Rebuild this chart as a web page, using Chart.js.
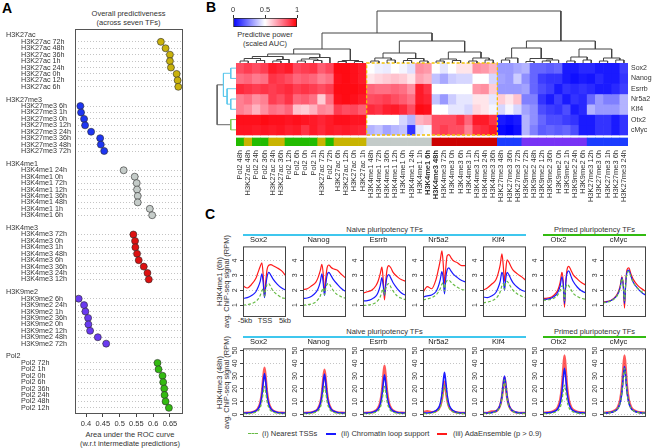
<!DOCTYPE html>
<html>
<head>
<meta charset="utf-8">
<script src="https://cdn.jsdelivr.net/npm/chart.js@4"></script>
<style>
  body { margin: 0; width: 652px; height: 448px; overflow: hidden; position: relative; background: #fff;
         font-family: "Liberation Sans", Arial, sans-serif; color: #333; }
  canvas { position: absolute; }
  .t { position: absolute; white-space: nowrap; font-size: 7.5px; line-height: 9px; }
  .c { text-align: center; }
  .letter { position: absolute; font-size: 14px; font-weight: bold; color: #000; }
  .rot { position: absolute; white-space: nowrap; font-size: 7.5px; text-align: center; transform: rotate(-90deg); }
  .bar { position: absolute; height: 2px; }
  .leg { position: absolute; width: 10px; height: 0; }
</style>
</head>
<body>
<div class="letter" style="left:2px;top:0px">A</div>
<div class="letter" style="left:206px;top:-1px">B</div>
<div class="letter" style="left:205px;top:206px">C</div>

<div class="t c" style="left:75px;top:9px;width:107px">Overall predictiveness<br>(across seven TFs)</div>
<div class="t c" style="left:60px;top:430px;width:140px">Area under the ROC curve<br>(w.r.t intermediate predictions)</div>
<div class="t c" style="left:225px;top:30px;width:80px">Predictive power<br>(scaled AUC)</div>

<div class="t c" style="left:243px;top:225px;width:283px">Naive pluripotency TFs</div>
<div class="bar" style="left:243px;top:234px;width:283px;background:#3fc7ee"></div>
<div class="t c" style="left:543px;top:225px;width:103px">Primed pluripotency TFs</div>
<div class="bar" style="left:543px;top:234px;width:103px;background:#33bb11"></div>
<div class="t c" style="left:243px;top:327px;width:283px">Naive pluripotency TFs</div>
<div class="bar" style="left:243px;top:336px;width:283px;background:#3fc7ee"></div>
<div class="t c" style="left:543px;top:327px;width:103px">Primed pluripotency TFs</div>
<div class="bar" style="left:543px;top:336px;width:103px;background:#33bb11"></div>

<div class="rot" style="left:169px;top:277px;width:100px;height:9px">H3K4me1 (6h)</div>
<div class="rot" style="left:176px;top:277px;width:100px;height:9px">avg. ChIP-seq signal (RPM)</div>
<div class="rot" style="left:169px;top:378px;width:100px;height:9px">H3K4me3 (48h)</div>
<div class="rot" style="left:176px;top:378px;width:100px;height:9px">avg. ChIP-seq signal (RPM)</div>

<div class="t c" style="left:230px;top:316px;width:30px">-5kb</div>
<div class="t c" style="left:250px;top:316px;width:30px">TSS</div>
<div class="t c" style="left:270px;top:316px;width:30px">5kb</div>

<div class="leg" style="left:248px;top:433px;border-top:1.5px dashed #66bb44"></div>
<div class="t" style="left:262px;top:429px">(i) Nearest TSSs</div>
<div class="leg" style="left:326px;top:433px;border-top:2px solid #1a1aff"></div>
<div class="t" style="left:341px;top:429px">(ii) Chromatin loop support</div>
<div class="leg" style="left:437px;top:433px;border-top:2px solid #ff1a1a"></div>
<div class="t" style="left:453px;top:429px">(iii) AdaEnsemble (p &gt; 0.9)</div>

<script>
// ---------- panel A: overall predictiveness ----------
const markNames = ["H3K27ac", "H3K27me3", "H3K4me1", "H3K4me3", "H3K9me2", "Pol2"];
const markColors = ["#c9b20c", "#1d35f2", "#c5ccc9", "#dd1111", "#6a3af0", "#33bb11"];
const stripColors = ["#c8b400", "#1c3cff", "#c3cbc9", "#cc0000", "#7733f5", "#22bb00"];
const timesH3K27ac = ["72h", "48h", "36h", "1h", "24h", "0h", "12h", "6h"];
const timesH3K27me3 = ["6h", "1h", "0h", "12h", "24h", "36h", "48h", "72h"];
const timesH3K4me1 = ["24h", "0h", "72h", "12h", "36h", "48h", "1h", "6h"];
const timesH3K4me3 = ["72h", "0h", "1h", "48h", "6h", "36h", "24h", "12h"];
const timesH3K9me2 = ["6h", "24h", "1h", "36h", "0h", "12h", "48h", "72h"];
const timesPol2 = ["72h", "1h", "0h", "6h", "36h", "24h", "48h", "12h"];
const aucH3K27ac = [0.623, 0.637, 0.650, 0.650, 0.653, 0.670, 0.673, 0.675];
const aucH3K27me3 = [0.383, 0.385, 0.394, 0.397, 0.415, 0.442, 0.444, 0.454];
const aucH3K4me1 = [0.512, 0.545, 0.551, 0.552, 0.554, 0.554, 0.590, 0.597];
const aucH3K4me3 = [0.541, 0.546, 0.547, 0.552, 0.557, 0.572, 0.583, 0.587];
const aucH3K9me2 = [0.378, 0.394, 0.398, 0.406, 0.407, 0.412, 0.435, 0.460];
const aucPol2 = [0.613, 0.616, 0.628, 0.630, 0.633, 0.634, 0.637, 0.647];
const aucTicks = [0.4, 0.45, 0.5, 0.55, 0.6, 0.65];

// ---------- panel B: heatmap ----------
const tfNames = ["Sox2", "Nanog", "Esrrb", "Nr5a2", "Klf4", "Otx2", "cMyc"];
const colLabels = [
  "Pol2 48h", "H3K27ac 48h", "Pol2 24h", "Pol2 36h", "H3K27ac 24h", "H3K27ac 36h", "Pol2 12h", "Pol2 6h",
  "Pol2 0h", "Pol2 1h", "H3K27ac 72h", "Pol2 72h", "H3K27ac 6h", "H3K27ac 12h", "H3K27ac 0h", "H3K27ac 1h",
  "H3K4me1 48h", "H3K4me1 72h", "H3K4me1 36h", "H3K4me1 12h", "H3K4me1 0h", "H3K4me1 24h", "H3K4me1 1h", "H3K4me1 6h",
  "H3K4me3 48h", "H3K4me3 72h", "H3K4me3 0h", "H3K4me3 6h", "H3K4me3 1h", "H3K4me3 12h", "H3K4me3 24h", "H3K4me3 36h",
  "H3K27me3 48h", "H3K27me3 36h", "H3K27me3 72h", "H3K9me2 72h", "H3K9me2 48h", "H3K9me2 12h", "H3K9me2 36h", "H3K9me2 0h",
  "H3K9me2 1h", "H3K9me2 24h", "H3K9me2 6h", "H3K27me3 12h", "H3K27me3 0h", "H3K27me3 1h", "H3K27me3 6h", "H3K27me3 24h",
];
const heatSox2 = [0.85, 0.88, 0.85, 0.88, 0.95, 0.93, 0.95, 0.86, 0.88, 0.9, 0.82, 0.86, 0.98, 0.98, 0.97, 0.95,
  0.5, 0.47, 0.46, 0.5, 0.48, 0.44, 0.72, 0.7, 0.5, 0.45, 0.5, 0.55, 0.55, 0.72, 0.7, 0.65,
  0.3, 0.3, 0.33, 0.35, 0.2, 0.2, 0.18, 0.2, 0.05, 0.05, 0.08, 0.08, 0.05, 0.05, 0.05, 0.12];
const heatNanog = [0.78, 0.8, 0.76, 0.78, 0.9, 0.88, 0.85, 0.8, 0.82, 0.8, 0.75, 0.78, 0.97, 0.98, 0.97, 0.95,
  0.55, 0.58, 0.6, 0.62, 0.6, 0.55, 0.68, 0.65, 0.38, 0.33, 0.4, 0.42, 0.42, 0.5, 0.5, 0.42,
  0.32, 0.3, 0.4, 0.28, 0.2, 0.12, 0.1, 0.1, 0.05, 0.03, 0.05, 0.04, 0.08, 0.05, 0.05, 0.1];
const heatEsrrb = [0.92, 0.9, 0.88, 0.9, 0.88, 0.9, 0.92, 0.88, 0.9, 0.88, 0.85, 0.88, 0.98, 0.98, 0.98, 0.97,
  0.8, 0.78, 0.78, 0.8, 0.78, 0.72, 0.95, 0.9, 0.5, 0.5, 0.5, 0.5, 0.5, 0.7, 0.72, 0.6,
  0.3, 0.3, 0.3, 0.32, 0.2, 0.15, 0.12, 0.05, 0.1, 0.08, 0.1, 0.08, 0.05, 0.05, 0.08, 0.12];
const heatNr5a2 = [0.75, 0.78, 0.72, 0.75, 0.88, 0.85, 0.9, 0.8, 0.82, 0.78, 0.6, 0.78, 0.97, 0.98, 0.97, 0.95,
  0.85, 0.86, 0.88, 0.85, 0.82, 0.78, 0.95, 0.93, 0.38, 0.3, 0.4, 0.45, 0.45, 0.55, 0.55, 0.45,
  0.6, 0.55, 0.62, 0.25, 0.25, 0.1, 0.05, 0.12, 0.05, 0.1, 0.08, 0.2, 0.3, 0.25, 0.25, 0.35];
const heatKlf4 = [0.75, 0.72, 0.65, 0.72, 0.78, 0.76, 0.8, 0.62, 0.6, 0.65, 0.74, 0.72, 0.88, 0.85, 0.86, 0.82,
  0.92, 0.9, 0.94, 0.95, 0.92, 0.85, 0.98, 0.97, 0.5, 0.5, 0.45, 0.45, 0.42, 0.58, 0.55, 0.48,
  0.42, 0.48, 0.42, 0.32, 0.28, 0.15, 0.12, 0.1, 0.15, 0.05, 0.08, 0.35, 0.3, 0.3, 0.3, 0.35];
const heatOtx2 = [0.97, 0.97, 0.97, 0.98, 0.97, 0.97, 0.96, 0.97, 0.96, 0.95, 0.93, 0.95, 0.97, 0.97, 0.96, 0.96,
  0.5, 0.5, 0.5, 0.5, 0.42, 0.35, 0.65, 0.68, 0.85, 0.85, 0.85, 0.9, 0.8, 0.95, 0.95, 0.9,
  0.05, 0.03, 0.05, 0.35, 0.28, 0.2, 0.15, 0.15, 0.12, 0.1, 0.05, 0.05, 0.1, 0.1, 0.05, 0.1];
const heatCmyc = [0.96, 0.96, 0.95, 0.96, 0.95, 0.96, 0.94, 0.95, 0.9, 0.95, 0.92, 0.95, 0.94, 0.95, 0.94, 0.93,
  0.35, 0.38, 0.32, 0.36, 0.38, 0.1, 0.45, 0.48, 0.85, 0.88, 0.85, 0.85, 0.75, 0.9, 0.92, 0.95,
  0.02, 0, 0.03, 0.35, 0.25, 0.18, 0.2, 0.18, 0.2, 0.15, 0.05, 0.05, 0.1, 0.1, 0.05, 0.1];
const legendTicks = [0, 0.5, 1];
// merges: [left, right, height]
const colTree = [
  [
    [
      [[[[0, 1, 2], [2, 3, 2.5], 4.5], [[4, 5, 2], 6, 3.5], 6.5], [[[7, 8, 2], [9, 10, 2.5], 4], 11, 5.5], 9],
      [[12, 13, 1.5], [14, 15, 1.5], 2.5],
      14],
    [
      [[[16, 17, 2], [18, 19, 3], 5], [[20, 21, 2.5], [22, 23, 2], 4.5], 10],
      [[[24, 25, 2], [26, 27, 2.5], 4], [[28, 29, 2], [30, 31, 3], 5], 11],
      22],
    30],
  [
    [[[32, 33, 3], 34, 5], [[35, 36, 1.5], [[37, 38, 2], 39, 3], 4.5], 15],
    [[[40, 41, 2], [42, 43, 3], 6], [[44, 45, 2], [46, 47, 3], 5], 14],
    22],
  52];
const rowTree = [[[0, 1, 5], [2, [3, 4, 5], 8.5], 12], [5, 6, 5], 18];

// ---------- panel C: signal around TSS ----------
const profileKb = [-5, -4, -3, -2, -1.5, -1, -0.6, -0.3, 0, 0.3, 0.6, 1, 1.5, 2, 3, 4, 5];
const me1Nearest = [
  [1.0, 1.03, 1.1, 1.25, 1.4, 1.65, 1.95, 2.1, 1.6, 2.1, 2.4, 2.45, 2.2, 1.95, 1.7, 1.5, 1.45],
  [1.0, 1.02, 1.08, 1.22, 1.38, 1.6, 1.95, 2.15, 1.7, 2.15, 2.4, 2.45, 2.25, 2.0, 1.7, 1.55, 1.45],
  [0.97, 1.0, 1.05, 1.18, 1.32, 1.55, 1.9, 2.1, 1.7, 2.1, 2.35, 2.45, 2.2, 1.95, 1.6, 1.45, 1.35],
  [1.35, 1.42, 1.5, 1.68, 1.85, 2.1, 2.4, 2.5, 1.95, 2.5, 2.65, 2.68, 2.55, 2.4, 2.2, 2.05, 2.0],
  [1.15, 1.2, 1.28, 1.45, 1.62, 1.9, 2.3, 2.45, 2.05, 2.5, 2.6, 2.45, 2.2, 2.0, 1.75, 1.6, 1.5],
  [1.32, 1.35, 1.4, 1.55, 1.72, 1.98, 2.3, 2.2, 1.3, 2.15, 2.4, 2.3, 2.05, 1.8, 1.58, 1.45, 1.38],
  [1.15, 1.2, 1.3, 1.52, 1.75, 2.15, 2.8, 2.35, 1.3, 2.5, 3.2, 3.25, 2.9, 2.55, 2.15, 1.9, 1.75],
];
const me1Loop = [
  [1.45, 1.5, 1.65, 1.9, 2.2, 2.6, 3.1, 2.5, 1.5, 2.3, 2.9, 3.2, 3.0, 2.75, 2.4, 2.15, 2.0],
  [1.45, 1.48, 1.6, 1.85, 2.1, 2.55, 3.1, 2.5, 1.65, 2.4, 3.0, 3.2, 3.0, 2.75, 2.4, 2.1, 1.9],
  [1.28, 1.3, 1.4, 1.6, 1.85, 2.3, 2.85, 2.3, 1.65, 2.4, 2.9, 3.05, 2.8, 2.5, 2.1, 1.8, 1.65],
  [1.55, 1.62, 1.68, 1.9, 2.2, 2.7, 3.25, 2.8, 1.75, 2.8, 3.35, 3.5, 3.3, 3.1, 2.85, 2.65, 2.55],
  [1.55, 1.5, 1.62, 1.85, 2.15, 2.6, 3.2, 2.9, 2.0, 2.8, 3.2, 3.05, 2.75, 2.5, 2.2, 2.0, 1.9],
  [1.38, 1.4, 1.48, 1.68, 1.9, 2.3, 2.9, 2.4, 1.1, 2.5, 3.15, 3.3, 2.95, 2.6, 2.2, 1.95, 1.82],
  [1.18, 1.22, 1.32, 1.55, 1.78, 2.2, 2.85, 2.35, 1.1, 2.5, 3.25, 3.35, 2.95, 2.55, 2.15, 1.85, 1.65],
];
const me1Ada = [
  [2.3, 2.15, 2.4, 2.8, 3.2, 3.6, 3.85, 3.0, 1.55, 2.6, 3.4, 3.68, 3.72, 3.65, 3.5, 3.3, 2.95],
  [2.05, 2.1, 2.3, 2.55, 2.85, 3.3, 3.75, 3.1, 1.8, 2.8, 3.5, 3.7, 3.55, 3.45, 3.35, 3.05, 2.8],
  [1.8, 1.9, 2.0, 2.3, 2.6, 3.1, 3.55, 2.7, 1.35, 2.6, 3.4, 3.65, 3.5, 3.2, 2.9, 2.7, 2.6],
  [1.85, 2.25, 2.1, 2.7, 3.3, 4.0, 4.65, 3.8, 2.45, 3.5, 4.3, 4.4, 4.2, 4.0, 3.85, 3.65, 3.65],
  [2.0, 2.15, 2.4, 2.7, 3.1, 3.7, 4.45, 3.7, 2.6, 3.4, 4.05, 3.9, 3.6, 3.35, 3.1, 2.9, 2.65],
  [1.45, 1.47, 1.55, 1.8, 2.05, 2.55, 3.2, 2.6, 0.85, 2.5, 3.4, 3.6, 3.35, 3.05, 2.75, 2.5, 2.35],
  [1.2, 1.25, 1.35, 1.6, 1.85, 2.3, 2.9, 2.4, 0.8, 2.6, 3.4, 3.5, 3.1, 2.75, 2.35, 2.1, 1.9],
];
const me3Nearest = [
  [0.5, 0.6, 0.9, 1.8, 2.8, 5.3, 10, 17, 22, 17, 10, 5.3, 2.8, 1.8, 0.9, 0.6, 0.5],
  [0.5, 0.6, 0.9, 1.8, 2.8, 5.3, 10, 17, 22, 17, 10, 5.3, 2.8, 1.8, 0.9, 0.6, 0.5],
  [0.5, 0.6, 0.9, 1.8, 2.8, 5.3, 10, 17, 22, 17, 10, 5.3, 2.8, 1.8, 0.9, 0.6, 0.5],
  [0.6, 0.7, 1.0, 2.0, 3.0, 5.6, 10.5, 18, 23, 18, 10.5, 5.6, 3.0, 2.0, 1.0, 0.7, 0.6],
  [0.7, 0.8, 1.1, 2.2, 3.5, 6.5, 12.5, 20.5, 27, 20.5, 12.5, 6.5, 3.5, 2.2, 1.1, 0.8, 0.7],
  [0.6, 0.7, 1.0, 2.0, 3.0, 5.6, 10.5, 18, 23, 18, 10.5, 5.6, 3.0, 2.0, 1.0, 0.7, 0.6],
  [1.0, 1.1, 1.6, 3.0, 4.8, 9, 17, 28, 36, 28, 17, 9, 4.8, 3.0, 1.6, 1.1, 1.0],
];
const me3Loop = [
  [1.0, 1.1, 1.5, 2.8, 4.3, 8, 15, 25, 32, 25, 15, 8, 4.3, 2.8, 1.5, 1.1, 1.0],
  [1.0, 1.1, 1.5, 2.8, 4.2, 7.9, 14.8, 24.5, 31.5, 24.5, 14.8, 7.9, 4.2, 2.8, 1.5, 1.1, 1.0],
  [1.0, 1.1, 1.5, 2.7, 4.2, 7.8, 14.5, 24, 31, 24, 14.5, 7.8, 4.2, 2.7, 1.5, 1.1, 1.0],
  [1.0, 1.1, 1.5, 2.9, 4.5, 8.2, 15.5, 25.5, 33, 25.5, 15.5, 8.2, 4.5, 2.9, 1.5, 1.1, 1.0],
  [1.0, 1.1, 1.4, 2.6, 4.0, 7.5, 14, 23, 30, 23, 14, 7.5, 4.0, 2.6, 1.4, 1.1, 1.0],
  [1.1, 1.2, 1.6, 3.0, 4.8, 9, 17, 28, 36, 28, 17, 9, 4.8, 3.0, 1.6, 1.2, 1.1],
  [1.1, 1.2, 1.7, 3.1, 5.0, 9.3, 17.5, 29, 37.5, 29, 17.5, 9.3, 5.0, 3.1, 1.7, 1.2, 1.1],
];
const me3Ada = [
  [1.2, 1.3, 1.6, 3.0, 4.8, 9, 17, 28, 36.5, 28, 17, 9, 4.8, 3.0, 1.6, 1.3, 1.2],
  [1.2, 1.3, 1.6, 2.9, 4.6, 8.7, 16.5, 27, 35, 27, 16.5, 8.7, 4.6, 2.9, 1.6, 1.3, 1.2],
  [1.2, 1.3, 1.6, 3.1, 5.0, 9.4, 17.8, 29, 38, 29, 17.8, 9.4, 5.0, 3.1, 1.6, 1.3, 1.2],
  [1.5, 2.6, 1.8, 2.5, 3.8, 6.5, 12, 19.5, 25.5, 19.5, 12, 6.5, 3.8, 2.5, 1.5, 1.2, 1.1],
  [1.1, 1.2, 2.3, 2.5, 3.9, 7.2, 13.5, 22, 29, 22, 13.5, 7.2, 3.9, 2.5, 1.4, 1.2, 1.1],
  [1.3, 1.5, 2.0, 3.8, 6.0, 11.5, 21.5, 35, 46, 35, 21.5, 11.5, 6.0, 3.8, 2.0, 1.5, 1.3],
  [1.3, 1.5, 2.0, 3.8, 6.0, 11.5, 21.5, 35, 46, 35, 21.5, 11.5, 6.0, 3.8, 2.0, 1.5, 1.3],
];
const me1Ticks = [1, 2, 3, 4];
const me3Ticks = [0, 10, 20, 30, 40, 50];

Chart.defaults.font.family = '"Liberation Sans", Arial, sans-serif';
Chart.defaults.color = "#333";
Chart.defaults.animation = false;
Chart.defaults.responsive = false;
Chart.defaults.plugins.legend.display = false;
Chart.defaults.plugins.tooltip.enabled = false;

function makeCanvas(left, top, w, h) {
  const c = document.createElement("canvas");
  c.width = w;
  c.height = h;
  c.style.left = left + "px";
  c.style.top = top + "px";
  c.style.width = w + "px";
  c.style.height = h + "px";
  document.body.appendChild(c);
  return c.getContext("2d");
}

const fixedTicks = (list) => (s) => {
  s.ticks = list.map((v) => ({ value: v }));
};

// ---------- A ----------
const aucByMark = [aucH3K27ac, aucH3K27me3, aucH3K4me1, aucH3K4me3, aucH3K9me2, aucPol2];
const timesByMark = [timesH3K27ac, timesH3K27me3, timesH3K4me1, timesH3K4me3, timesH3K9me2, timesPol2];
const rowSlots = [];
markNames.forEach((m, g) => timesByMark[g].forEach((t, r) => rowSlots.push(g * 10 + r)));

const panelALabels = {
  id: "panelALabels",
  afterDraw(chart) {
    const { ctx, chartArea: a, scales } = chart;
    ctx.save();
    ctx.strokeStyle = "#555";
    ctx.lineWidth = 1;
    ctx.strokeRect(a.left + 0.5, a.top + 0.5, a.right - a.left, a.bottom - a.top);
    ctx.fillStyle = "#333";
    ctx.font = '7.2px "Liberation Sans", Arial, sans-serif';
    ctx.textBaseline = "middle";
    markNames.forEach((m, g) => {
      ctx.fillText(m, 6, scales.y.getPixelForValue(g * 10 - 1));
      timesByMark[g].forEach((t, r) => {
        ctx.fillText(m + " " + t, 21, scales.y.getPixelForValue(g * 10 + r));
      });
    });
    ctx.restore();
  },
};

new Chart(makeCanvas(0, 0, 200, 448), {
  type: "scatter",
  data: {
    datasets: markNames.map((m, g) => ({
      label: m,
      data: aucByMark[g].map((v, r) => ({ x: v, y: g * 10 + r })),
      backgroundColor: markColors[g],
      borderColor: "#2a2a2a",
      borderWidth: 0.6,
      pointRadius: 3.5,
    })),
  },
  options: {
    layout: { padding: { left: 75, right: 18, top: 29 } },
    scales: {
      x: {
        type: "linear",
        min: 0.367,
        max: 0.686,
        afterBuildTicks: fixedTicks(aucTicks),
        afterFit: (s) => { s.height = 35; },
        ticks: { font: { size: 7.5 }, padding: 2, callback: (v) => String(v) },
        grid: { drawOnChartArea: false, tickLength: 4, color: "#444" },
        border: { display: false },
      },
      y: {
        type: "linear",
        reverse: true,
        min: -2,
        max: 57.8,
        afterBuildTicks: fixedTicks(rowSlots),
        afterFit: (s) => { s.width = 0; },
        ticks: { display: false },
        grid: { color: "#c4c4c4", drawTicks: false },
        border: { display: false, dash: [1, 2] },
      },
    },
  },
  plugins: [panelALabels],
});

// ---------- B ----------
const heatRows = [heatSox2, heatNanog, heatEsrrb, heatNr5a2, heatKlf4, heatOtx2, heatCmyc];

// blue - white - red, the red half leaning slightly to pink
function heatColor(v) {
  if (v < 0.5) {
    const t = v / 0.5;
    return `rgb(${Math.round(255 * t)},${Math.round(255 * t)},255)`;
  }
  const t = (v - 0.5) / 0.5;
  return `rgb(255,${Math.round(255 * (1 - t))},${Math.round(255 * Math.pow(1 - t, 0.8))})`;
}

const heatDatasets = heatRows.map((row, r) => ({
  data: row.map(() => [r, r + 1]),
  backgroundColor: row.map(heatColor),
}));
heatDatasets.push({
  data: colLabels.map(() => [7.29, 8.07]),
  backgroundColor: colLabels.map((l) => stripColors[markNames.indexOf(l.split(" ")[0])]),
});

const dashedBox = {
  id: "dashedBox",
  afterDatasetsDraw(chart) {
    const { ctx, scales } = chart;
    const w = scales.x.width / colLabels.length;
    const x1 = scales.x.left + 16 * w;
    const x2 = scales.x.left + 32 * w;
    const y1 = scales.y.getPixelForValue(0);
    const y2 = scales.y.getPixelForValue(7);
    ctx.save();
    ctx.strokeStyle = "#f2c200";
    ctx.lineWidth = 1.3;
    ctx.setLineDash([3, 2]);
    ctx.strokeRect(x1, y1, x2 - x1, y2 - y1);
    ctx.restore();
  },
};

new Chart(makeCanvas(200, 0, 452, 210), {
  type: "bar",
  data: { labels: colLabels, datasets: heatDatasets },
  options: {
    datasets: { bar: { grouped: false, barPercentage: 1, categoryPercentage: 1, borderWidth: 0 } },
    layout: { padding: { left: 36, top: 63 } },
    scales: {
      x: {
        type: "category",
        afterFit: (s) => { s.height = 64; },
        ticks: {
          autoSkip: false,
          minRotation: 90,
          maxRotation: 90,
          padding: 4,
          font: (c) => ({ size: 7.5, weight: c.index === 23 || c.index === 24 ? "bold" : "normal" }),
        },
        grid: { display: false, drawTicks: false },
        border: { display: false },
      },
      y: {
        type: "linear",
        position: "right",
        reverse: true,
        min: 0,
        max: 8.07,
        afterBuildTicks: fixedTicks(tfNames.map((n, i) => i + 0.5)),
        afterFit: (s) => { s.width = 24; },
        ticks: { font: { size: 7 }, padding: 3, callback: (v, i) => tfNames[i] },
        grid: { display: false, drawTicks: false },
        border: { display: false },
      },
    },
  },
  plugins: [dashedBox],
});

function treeLinks(node, out, vertical) {
  if (typeof node === "number") return { pos: node + 0.5, h: 0, leaves: [node] };
  const l = treeLinks(node[0], out, vertical);
  const r = treeLinks(node[1], out, vertical);
  const pts = [[l.pos, l.h], [l.pos, node[2]], [r.pos, node[2]], [r.pos, r.h]];
  const leaves = l.leaves.concat(r.leaves);
  out.push({
    leaves,
    data: pts.map(([p, h]) => (vertical ? { x: p, y: h } : { x: h, y: p })),
  });
  return { pos: (l.pos + r.pos) / 2, h: node[2], leaves };
}

const colLinks = [];
treeLinks(colTree, colLinks, true);
new Chart(makeCanvas(236, 8, 392, 55), {
  type: "scatter",
  data: {
    datasets: colLinks.map((k) => ({
      data: k.data, showLine: true, pointRadius: 0, borderColor: "#444", borderWidth: 1, clip: false,
    })),
  },
  options: {
    scales: {
      x: { type: "linear", min: 0, max: colLabels.length, display: false },
      y: { type: "linear", min: 0, max: 55, display: false },
    },
  },
});

const rowLinks = [];
treeLinks(rowTree, rowLinks, false);
new Chart(makeCanvas(214, 63, 22, 72), {
  type: "scatter",
  data: {
    datasets: rowLinks.map((k) => ({
      data: k.data,
      showLine: true,
      pointRadius: 0,
      borderWidth: 1,
      clip: false,
      borderColor: k.leaves.every((i) => i < 5) ? "#5cc8ec" : k.leaves.every((i) => i >= 5) ? "#7ccb55" : "#666",
    })),
  },
  options: {
    scales: {
      x: { type: "linear", min: 0, max: 21, reverse: true, display: false },
      y: { type: "linear", min: 0, max: 7, reverse: true, display: false },
    },
  },
});

// colour key
new Chart(makeCanvas(220, 0, 90, 30), {
  type: "bar",
  data: {
    labels: [""],
    datasets: [{
      data: [[0, 1]],
      backgroundColor: (c) => {
        const a = c.chart.chartArea;
        if (!a) return "#fff";
        const g = c.chart.ctx.createLinearGradient(a.left, 0, a.right, 0);
        [0, 0.25, 0.5, 0.625, 0.75, 0.875, 1].forEach((v) => g.addColorStop(v, heatColor(v)));
        return g;
      },
      borderColor: "#222",
      borderWidth: 1,
      borderSkipped: false,
      barPercentage: 1,
      categoryPercentage: 1,
    }],
  },
  options: {
    indexAxis: "y",
    layout: { padding: { left: 13, right: 13, bottom: 3 } },
    scales: {
      x: {
        type: "linear",
        position: "top",
        min: 0,
        max: 1,
        afterBuildTicks: fixedTicks(legendTicks),
        afterFit: (s) => { s.height = 18; },
        ticks: { font: { size: 7.5 }, padding: 1, callback: (v) => String(v) },
        grid: { drawOnChartArea: false, tickLength: 3, color: "#333" },
        border: { display: false },
      },
      y: { display: false },
    },
  },
});

// ---------- C ----------
const profileBox = {
  id: "profileBox",
  afterDraw(chart) {
    const { ctx, chartArea: a, scales } = chart;
    ctx.save();
    ctx.strokeStyle = "#444";
    ctx.lineWidth = 1;
    ctx.strokeRect(a.left + 0.5, a.top + 0.5, a.right - a.left - 1, a.bottom - a.top - 1);
    ctx.fillStyle = "#333";
    ctx.font = '7px "Liberation Sans", Arial, sans-serif';
    ctx.textAlign = "center";
    ctx.textBaseline = "middle";
    scales.y.ticks.forEach((t) => {
      ctx.save();
      ctx.translate(a.left - 8, scales.y.getPixelForValue(t.value));
      ctx.rotate(-Math.PI / 2);
      ctx.fillText(String(t.value), 0, 0);
      ctx.restore();
    });
    ctx.restore();
  },
};

function profileChart(i, row) {
  const top = row === 0 ? 235 : 337;
  const h = row === 0 ? 70 : 68;
  const near = row === 0 ? me1Nearest : me3Nearest;
  const loop = row === 0 ? me1Loop : me3Loop;
  const ada = row === 0 ? me1Ada : me3Ada;
  const pts = (arr) => profileKb.map((x, k) => ({ x, y: arr[k] }));
  new Chart(makeCanvas(229 + 60 * i, top, 59, 12 + h + 2), {
    type: "line",
    data: {
      datasets: [
        { data: pts(near[i]), borderColor: "#66bb44", borderWidth: 1.2, borderDash: [3, 2] },
        { data: pts(loop[i]), borderColor: "#1a1aff", borderWidth: row === 0 ? 1.2 : 1.6 },
        { data: pts(ada[i]), borderColor: row === 0 ? "#ff1a1a" : "rgba(255,20,20,0.7)", borderWidth: row === 0 ? 1.2 : 2.4 },
      ],
    },
    options: {
      elements: { point: { radius: 0 }, line: { cubicInterpolationMode: "monotone" } },
      layout: { padding: { left: 2, right: 2, bottom: 2 } },
      plugins: {
        title: { display: true, text: tfNames[i], font: { size: 7.5, weight: "normal" }, padding: { top: 0.4, bottom: 2 }, color: "#222" },
      },
      scales: {
        x: { type: "linear", min: -5, max: 5, display: false },
        y: {
          type: "linear",
          min: row === 0 ? 0.2 : -2,
          max: row === 0 ? 4.95 : 51.6,
          afterBuildTicks: fixedTicks(row === 0 ? me1Ticks : me3Ticks),
          afterFit: (s) => { s.width = 12; },
          ticks: { display: false },
          grid: { color: "#c4c4c4", tickLength: 3, tickColor: "#444", tickBorderDash: [] },
          border: { display: false, dash: [1, 2] },
        },
      },
    },
    plugins: [profileBox],
  });
}

tfNames.forEach((n, i) => {
  profileChart(i, 0);
  profileChart(i, 1);
});
</script>
</body>
</html>
